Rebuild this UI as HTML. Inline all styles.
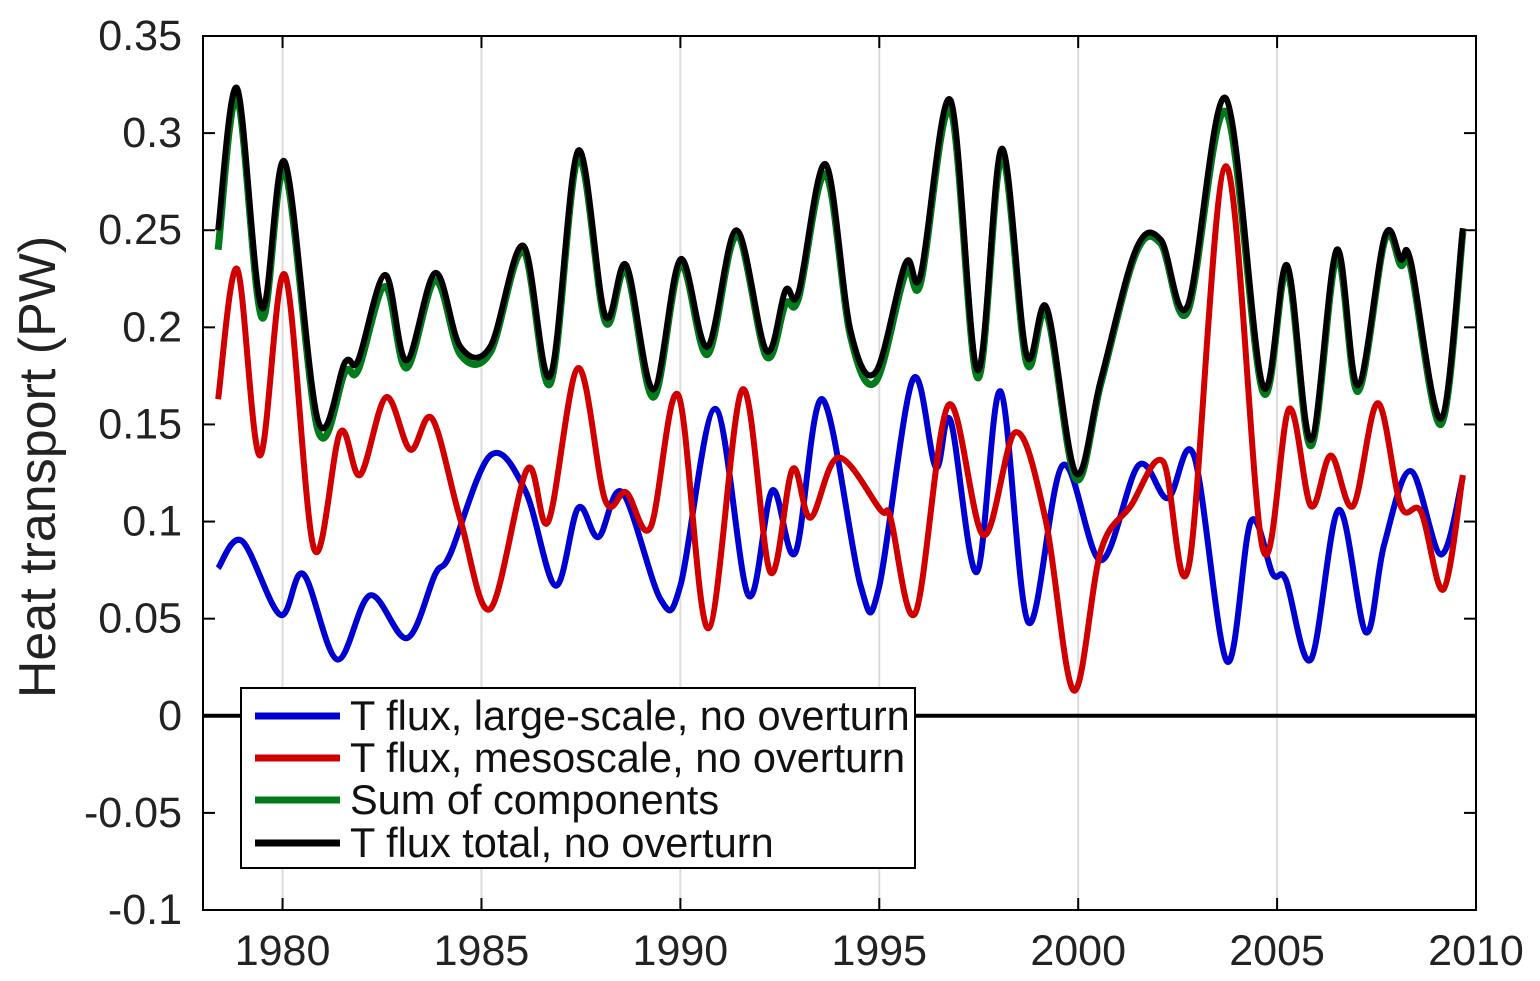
<!DOCTYPE html>
<html><head><meta charset="utf-8">
<style>
html,body{margin:0;padding:0;background:#fff;}
svg{display:block;font-family:"Liberation Sans",Arial,sans-serif;}
</style></head>
<body>
<svg id="chart" width="1540" height="981" viewBox="0 0 1540 981" xmlns="http://www.w3.org/2000/svg">
<g id="grid"></g>
<g id="lines"></g>
<g id="axes"></g>
<text transform="translate(55,467) rotate(-90)" text-anchor="middle" font-size="52" fill="#222">Heat transport (PW)</text>
<g>
<rect x="241" y="688" width="674" height="180" fill="#fff" stroke="#000" stroke-width="2"/>
<g><line x1="255" y1="716" x2="340" y2="716" stroke="#0000d0" stroke-width="7"/><text x="350" y="730" font-size="41.5" fill="#111">T flux, large-scale, no overturn</text></g>
<g><line x1="255" y1="758" x2="340" y2="758" stroke="#d00000" stroke-width="7"/><text x="350" y="772" font-size="41.5" fill="#111">T flux, mesoscale, no overturn</text></g>
<g><line x1="255" y1="800" x2="340" y2="800" stroke="#007a1a" stroke-width="7"/><text x="350" y="814" font-size="41.5" fill="#111">Sum of components</text></g>
<g><line x1="255" y1="843" x2="340" y2="843" stroke="#000" stroke-width="7"/><text x="350" y="857" font-size="41.5" fill="#111">T flux total, no overturn</text></g>
</g>
</svg>
<script>
const xTicks=[1980,1985,1990,1995,2000,2005,2010];
const yTicks=[-0.1,-0.05,0,0.05,0.1,0.15,0.2,0.25,0.3,0.35];
const yTickLabels=["-0.1","-0.05","0","0.05","0.1","0.15","0.2","0.25","0.3","0.35"];
const blackYears=[1978.38,1978.86,1979.48,1980.06,1980.89,1981.57,1981.90,1982.58,1983.11,1983.84,1984.47,1985.22,1986.05,1986.73,1987.43,1988.11,1988.64,1989.32,1990.0,1990.68,1991.41,1992.16,1992.64,1992.97,1993.65,1994.28,1994.91,1995.66,1996.04,1996.79,1997.47,1998.08,1998.70,1999.21,1999.94,2000.57,2001.45,2002.08,2002.75,2003.71,2004.64,2005.25,2005.85,2006.50,2007.03,2007.71,2008.11,2008.36,2009.12,2009.67];
const blackVals=[0.25,0.323,0.21,0.285,0.152,0.182,0.183,0.227,0.183,0.228,0.19,0.19,0.242,0.175,0.291,0.206,0.232,0.168,0.235,0.19,0.25,0.188,0.219,0.218,0.284,0.198,0.177,0.233,0.227,0.317,0.178,0.292,0.186,0.21,0.125,0.173,0.24,0.245,0.211,0.318,0.17,0.232,0.142,0.24,0.17,0.247,0.235,0.234,0.153,0.251];
const greenVals=[0.24,0.318,0.205,0.28,0.147,0.177,0.178,0.221,0.179,0.224,0.186,0.187,0.239,0.171,0.287,0.203,0.229,0.164,0.232,0.186,0.247,0.185,0.212,0.215,0.279,0.195,0.172,0.228,0.223,0.312,0.174,0.288,0.182,0.207,0.122,0.171,0.238,0.243,0.208,0.311,0.167,0.229,0.139,0.236,0.167,0.245,0.232,0.231,0.15,0.249];
const redYears=[1978.38,1978.86,1979.43,1980.06,1980.79,1981.45,1981.95,1982.60,1983.21,1983.76,1984.47,1985.22,1986.15,1986.68,1987.43,1988.11,1988.64,1989.25,1989.95,1990.70,1991.56,1992.26,1992.82,1993.27,1993.97,1995.03,1995.28,1995.91,1996.74,1997.62,1998.43,1999.18,1999.89,2000.57,2001.32,2002.13,2002.78,2003.71,2004.64,2005.30,2005.85,2006.35,2006.91,2007.53,2008.11,2008.62,2009.18,2009.67];
const redVals=[0.163,0.23,0.134,0.227,0.086,0.146,0.124,0.164,0.137,0.153,0.101,0.055,0.127,0.1,0.179,0.111,0.115,0.097,0.165,0.045,0.168,0.074,0.127,0.102,0.133,0.106,0.102,0.053,0.16,0.093,0.146,0.101,0.013,0.085,0.108,0.131,0.077,0.283,0.086,0.158,0.108,0.134,0.108,0.161,0.108,0.105,0.065,0.124];
const blueYears=[1978.38,1978.98,1979.94,1980.52,1981.37,1982.20,1983.13,1983.84,1984.21,1985.22,1986.10,1986.86,1987.43,1987.94,1988.54,1989.50,1990.0,1990.88,1991.71,1992.31,1992.89,1993.57,1994.53,1994.98,1995.84,1996.42,1996.79,1997.45,1998.05,1998.75,1999.61,2000.57,2001.52,2002.25,2002.91,2003.74,2004.34,2004.89,2005.22,2005.85,2006.55,2007.23,2007.69,2008.36,2009.12,2009.67];
const blueVals=[0.076,0.09,0.052,0.073,0.029,0.062,0.04,0.073,0.083,0.134,0.116,0.067,0.107,0.092,0.115,0.06,0.067,0.158,0.062,0.116,0.084,0.163,0.067,0.065,0.173,0.128,0.152,0.074,0.167,0.048,0.129,0.08,0.129,0.112,0.134,0.028,0.1,0.073,0.07,0.029,0.106,0.043,0.088,0.126,0.083,0.123];

const L=203,R=1476,T=36,B=910,X0=1978,X1=2010,Y0=-0.1,Y1=0.35;
const xs=v=>L+(v-X0)/(X1-X0)*(R-L);
const ys=v=>B-(v-Y0)/(Y1-Y0)*(B-T);
const NS="http://www.w3.org/2000/svg";
function mk(tag,attrs,parent){const e=document.createElementNS(NS,tag);for(const k in attrs)e.setAttribute(k,attrs[k]);parent.appendChild(e);return e;}
const grid=document.getElementById('grid'),axes=document.getElementById('axes'),lines=document.getElementById('lines');
xTicks.forEach(t=>{
  if(t>X0&&t<X1){const g=mk('line',{x1:xs(t),x2:xs(t),y1:T,y2:B,stroke:'#dcdcdc','stroke-width':2},grid);
  
  }
  const tl=mk('line',{x1:xs(t),x2:xs(t),y1:B,y2:B-12,stroke:'#000','stroke-width':2},axes);
  
  
  const tt=mk('line',{x1:xs(t),x2:xs(t),y1:T,y2:T+12,stroke:'#000','stroke-width':2},axes);
  
  
  const lb=mk('text',{x:xs(t),y:965,'text-anchor':'middle','font-size':43,fill:'#222'},axes);
  lb.textContent=t;
  
  
});
yTicks.forEach((t,i)=>{
  const a=mk('line',{x1:L,x2:L+12,y1:ys(t),y2:ys(t),stroke:'#000','stroke-width':2},axes);
  
  
  const b=mk('line',{x1:R,x2:R-12,y1:ys(t),y2:ys(t),stroke:'#000','stroke-width':2},axes);
  
  
  const lb=mk('text',{x:182,y:ys(t)+14,'text-anchor':'end','font-size':43,fill:'#222'},axes);
  lb.textContent=yTickLabels[i];
  
  
});
const box=mk('rect',{x:L,y:T,width:R-L,height:B-T,fill:'none',stroke:'#000','stroke-width':2},axes);


const zl=mk('line',{x1:L,x2:R,y1:ys(0),y2:ys(0),stroke:'#000','stroke-width':4},lines);


function smooth(xa,va){
  const p=xa.map((x,i)=>[xs(x),ys(va[i])]);
  let d='M'+p[0][0]+','+p[0][1];
  for(let i=0;i<p.length-1;i++){
    const p0=p[i-1]||p[i],p1=p[i],p2=p[i+1],p3=p[i+2]||p2;
    const c1=[p1[0]+(p2[0]-p0[0])/6,p1[1]+(p2[1]-p0[1])/6];
    const c2=[p2[0]-(p3[0]-p1[0])/6,p2[1]-(p3[1]-p1[1])/6];
    d+=' C'+c1[0]+','+c1[1]+' '+c2[0]+','+c2[1]+' '+p2[0]+','+p2[1];
  }
  return d;
}
const s1=mk('path',{d:smooth(blueYears,blueVals),fill:'none',stroke:'#0000d0','stroke-width':6,'stroke-linejoin':'round'},lines);


const s2=mk('path',{d:smooth(redYears,redVals),fill:'none',stroke:'#d00000','stroke-width':6,'stroke-linejoin':'round'},lines);


const s3=mk('path',{d:smooth(blackYears,greenVals),fill:'none',stroke:'#007a1a','stroke-width':7,'stroke-linejoin':'round'},lines);


const s4=mk('path',{d:smooth(blackYears,blackVals),fill:'none',stroke:'#000','stroke-width':6,'stroke-linejoin':'round'},lines);


</script>
</body></html>
